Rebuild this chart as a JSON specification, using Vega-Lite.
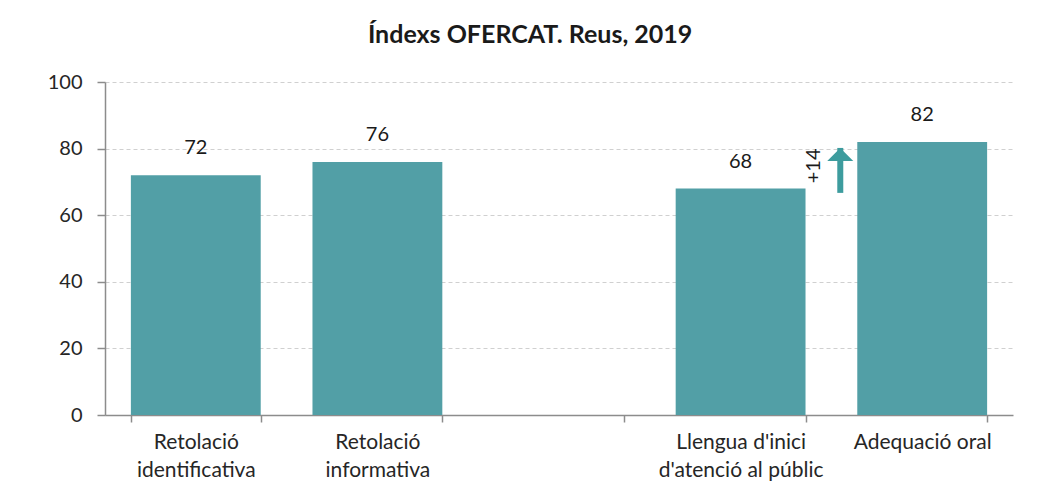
{
  "$schema": "https://vega.github.io/schema/vega-lite/v6.json",
  "width": 908,
  "height": 333,
  "autosize": "none",
  "padding": {"left": 105, "top": 82, "right": 27, "bottom": 87},
  "background": "white",
  "config": {"view": {"stroke": null}, "font": "Lato"},
  "title": {
    "text": "Índexs OFERCAT. Reus, 2019",
    "font": "Lato",
    "fontSize": 25,
    "fontWeight": "bold",
    "color": "#1a1a1a",
    "anchor": "middle",
    "frame": "bounds",
    "offset": 24
  },
  "datasets": {
    "bars": [
      {"cat": "Retolació|identificativa", "value": 72},
      {"cat": "Retolació|informativa", "value": 76},
      {"cat": "Llengua d'inici|d'atenció al públic", "value": 68},
      {"cat": "Adequació oral", "value": 82}
    ],
    "arrow": [
      {"cat": "Adequació oral", "start": 66.7, "end": 80.2, "label": "+14", "labelPos": 74.8}
    ]
  },
  "encoding": {
    "x": {
      "field": "cat",
      "type": "nominal",
      "sort": null,
      "scale": {
        "domain": ["Retolació|identificativa", "Retolació|informativa", " ", "Llengua d'inici|d'atenció al públic", "Adequació oral"],
        "paddingInner": 0.285,
        "paddingOuter": 0.1425
      },
      "axis": {
        "title": null,
        "labelAngle": 0,
        "labelExpr": "split(datum.label, '|')",
        "labelFont": "Lato",
        "labelFontSize": 21,
        "labelColor": "#262626",
        "labelLineHeight": 28,
        "labelPadding": 9,
        "labelBaseline": "top",
        "tickBand": "extent",
        "tickSize": 7,
        "tickColor": "#8c8c8c",
        "domainColor": "#8c8c8c",
        "domainWidth": 1.5,
        "tickWidth": 1.5,
        "grid": false
      }
    }
  },
  "layer": [
    {
      "data": {"name": "bars"},
      "mark": {"type": "bar", "color": "#529FA6"},
      "encoding": {
        "y": {
          "field": "value",
          "type": "quantitative",
          "scale": {"domain": [0, 100]},
          "axis": {
            "title": null,
            "values": [0, 20, 40, 60, 80, 100],
            "labelFont": "Lato",
            "labelFontSize": 20,
            "labelColor": "#262626",
            "labelPadding": 15,
            "tickSize": 8,
            "tickColor": "#8c8c8c",
            "tickWidth": 1.5,
            "domainColor": "#8c8c8c",
            "domainWidth": 1.5,
            "gridColor": "#d0d0d0",
            "gridDash": [4, 3],
            "gridWidth": 1
          }
        }
      }
    },
    {
      "data": {"name": "bars"},
      "mark": {"type": "text", "baseline": "bottom", "dy": -17, "fontSize": 20, "font": "Lato", "color": "#1a1a1a"},
      "encoding": {
        "y": {"field": "value", "type": "quantitative"},
        "text": {"field": "value", "type": "quantitative"}
      }
    },
    {
      "data": {"name": "arrow"},
      "mark": {"type": "rule", "color": "#3D9C9E", "strokeWidth": 6, "xOffset": -17},
      "encoding": {
        "x": {"field": "cat", "type": "nominal", "bandPosition": 0},
        "y": {"field": "start", "type": "quantitative"},
        "y2": {"field": "end"}
      }
    },
    {
      "data": {"name": "arrow"},
      "mark": {"type": "point", "shape": "M-1,1L0,0L1,1Z", "size": 676, "filled": true, "opacity": 1, "color": "#3D9C9E", "xOffset": -17},
      "encoding": {
        "x": {"field": "cat", "type": "nominal", "bandPosition": 0},
        "y": {"field": "end", "type": "quantitative"}
      }
    },
    {
      "data": {"name": "arrow"},
      "mark": {"type": "text", "angle": 270, "align": "center", "baseline": "middle", "fontSize": 20, "font": "Lato", "color": "#1a1a1a", "xOffset": -43},
      "encoding": {
        "x": {"field": "cat", "type": "nominal", "bandPosition": 0},
        "y": {"field": "labelPos", "type": "quantitative"},
        "text": {"field": "label"}
      }
    }
  ]
}
